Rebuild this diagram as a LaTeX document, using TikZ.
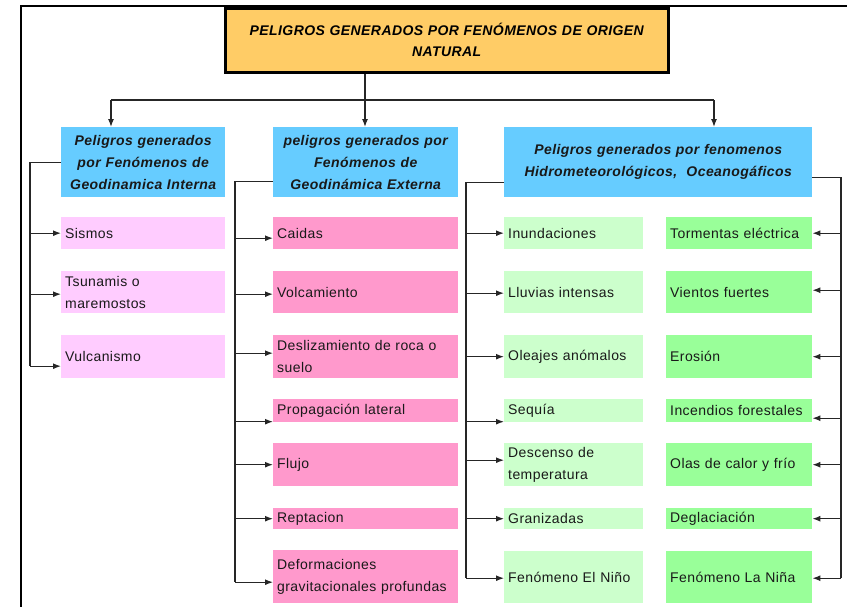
\documentclass[tikz,border=0pt]{standalone}
\usepackage{fontspec}
\setmainfont{Liberation Sans}[LetterSpace=3]
\usetikzlibrary{arrows.meta}
\definecolor{titlefill}{HTML}{FFCC66}
\definecolor{bluefill}{HTML}{66CCFF}
\definecolor{pinkA}{HTML}{FFCCFF}
\definecolor{pinkB}{HTML}{FF99CC}
\definecolor{greenA}{HTML}{CCFFCC}
\definecolor{greenB}{HTML}{99FF99}
\newcommand\mybox[7]{\node[#2, anchor=north west, minimum height=#6pt, text width=#5pt] (#1) at (#3,#4) {#7};}
\tikzset{
  basebox/.style={inner xsep=4pt, inner ysep=1pt, font=\fontsize{14}{22}\selectfont, text=black!90},
  headbox/.style={basebox, fill=bluefill, align=center, font=\fontsize{14}{22}\selectfont\bfseries\itshape},
  itemA/.style={basebox, fill=pinkA, align=left},
  itemB/.style={basebox, fill=pinkB, align=left},
  itemC/.style={basebox, fill=greenA, align=left},
  itemD/.style={basebox, fill=greenB, align=left},
  conn/.style={draw=black!85, line width=1.3pt},
  arr/.style={conn, -{Latex[length=8pt,width=6pt]}}
}
\begin{document}
\begin{tikzpicture}[x=1pt, y=-1pt]
\useasboundingbox (0,0) rectangle (847,606);
% frame
\draw[line width=2.5pt] (21,612) -- (21,6) -- (852,6);
% title
\node[draw=black, line width=2.5pt, fill=titlefill, anchor=north west, minimum height=64pt, text width=435pt, inner xsep=4pt, align=center, font=\fontsize{14}{21}\selectfont\bfseries\itshape] (title) at (224,7) {PELIGROS GENERADOS POR FENÓMENOS DE ORIGEN\\NATURAL};
% headers
\mybox{b1}{headbox}{61}{127}{156}{70}{Peligros generados\\por Fenómenos de\\Geodinamica Interna}
\mybox{b2}{headbox}{273}{127}{177}{70}{peligros generados por\\Fenómenos de\\Geodinámica Externa}
\mybox{b3}{headbox}{504}{127}{300}{70}{Peligros generados por fenomenos\\Hidrometeorológicos,\ \ Oceanogáficos}
% column 1
\mybox{sism}{itemA}{61}{217}{156}{32}{Sismos}
\mybox{tsun}{itemA}{61}{271}{156}{42}{Tsunamis o\\maremostos}
\mybox{vulc}{itemA}{61}{335}{156}{43}{Vulcanismo}
% column 2
\mybox{caid}{itemB}{273}{217}{177}{32}{Caidas}
\mybox{volc}{itemB}{273}{271}{177}{42}{Volcamiento}
\mybox{desl}{itemB}{273}{335}{177}{43}{Deslizamiento de roca o\\suelo}
\mybox{prop}{itemB}{273}{399}{177}{23}{Propagación lateral}
\mybox{fluj}{itemB}{273}{443}{177}{43}{Flujo}
\mybox{rept}{itemB}{273}{508}{177}{21}{Reptacion}
\mybox{defo}{itemB}{273}{550}{177}{53}{Deformaciones\\gravitacionales profundas}
% column 3 left
\mybox{inun}{itemC}{504}{217}{131}{32}{Inundaciones}
\mybox{lluv}{itemC}{504}{271}{131}{42}{Lluvias intensas}
\mybox{olea}{itemC}{504}{335}{131}{43}{Oleajes anómalos}
\mybox{sequ}{itemC}{504}{399}{131}{23}{Sequía}
\mybox{desc}{itemC}{504}{443}{131}{43}{Descenso de\\temperatura}
\mybox{gran}{itemC}{504}{508}{131}{21}{Granizadas}
\mybox{nino}{itemC}{504}{551}{131}{52}{Fenómeno El Niño}
% column 3 right
\mybox{torm}{itemD}{666}{217}{138}{32}{Tormentas eléctrica}
\mybox{vien}{itemD}{666}{271}{138}{42}{Vientos fuertes}
\mybox{eros}{itemD}{666}{335}{138}{43}{Erosión}
\mybox{ince}{itemD}{666}{399}{138}{23}{Incendios forestales}
\mybox{olas}{itemD}{666}{443}{138}{43}{Olas de calor y frío}
\mybox{degl}{itemD}{666}{508}{138}{21}{Deglaciación}
\mybox{nina}{itemD}{666}{551}{138}{52}{Fenómeno La Niña}
% top connectors
\coordinate (hm) at (365,100);
\coordinate (hl) at (111,100);
\coordinate (hr) at (714,100);
\draw[conn] (title.south -| hm) -- (hm);
\draw[conn] (hl) -- (hr);
\draw[arr] (hl) -- (hl |- b1.north);
\draw[arr] (hm) -- (hm |- b2.north);
\draw[arr] (hr) -- (hr |- b3.north);
% column 1 connectors
\coordinate (t1) at (30,0);
\coordinate (vulcA) at ([yshift=-9.5pt]vulc.west);
\coordinate (tsunA) at ([yshift=-2pt]tsun.west);
\draw[conn] (b1.west) -| (t1 |- vulcA);
\draw[arr] (t1 |- sism.west) -- (sism.west);
\draw[arr] (t1 |- tsunA) -- (tsunA);
\draw[arr] (t1 |- vulcA) -- (vulcA);
% column 2 connectors
\coordinate (t2) at (235,0);
\coordinate (caidA) at ([yshift=-5pt]caid.west);
\coordinate (volcA) at ([yshift=-2pt]volc.west);
\coordinate (deslA) at ([yshift=3.5pt]desl.west);
\coordinate (propA) at ([yshift=-11pt]prop.west);
\coordinate (defoA) at ([yshift=-5.5pt]defo.west);
\draw[conn] ([yshift=-19pt]b2.west) -| (t2 |- defoA);
\draw[arr] (t2 |- caidA) -- (caidA);
\draw[arr] (t2 |- volcA) -- (volcA);
\draw[arr] (t2 |- deslA) -- (deslA);
\draw[arr] (t2 |- propA) -- (propA);
\draw[arr] (t2 |- fluj.west) -- (fluj.west);
\draw[arr] (t2 |- rept.west) -- (rept.west);
\draw[arr] (t2 |- defoA) -- (defoA);
% column 3 left connectors
\coordinate (t3) at (466,0);
\coordinate (lluvA) at ([yshift=-1pt]lluv.west);
\coordinate (sequA) at ([yshift=-11pt]sequ.west);
\coordinate (descA) at ([yshift=4.5pt]desc.west);
\coordinate (ninoA) at ([yshift=-1pt]nino.west);
\draw[conn] ([yshift=-20pt]b3.west) -| (t3 |- ninoA);
\draw[arr] (t3 |- inun.west) -- (inun.west);
\draw[arr] (t3 |- lluvA) -- (lluvA);
\draw[arr] (t3 |- olea.west) -- (olea.west);
\draw[arr] (t3 |- sequA) -- (sequA);
\draw[arr] (t3 |- descA) -- (descA);
\draw[arr] (t3 |- gran.west) -- (gran.west);
\draw[arr] (t3 |- ninoA) -- (ninoA);
% column 3 right connectors
\coordinate (t4) at (841,0);
\coordinate (vienA) at ([yshift=2pt]vien.east);
\coordinate (inceA) at ([yshift=-7.5pt]ince.east);
\coordinate (ninaA) at ([yshift=-1pt]nina.east);
\draw[conn] ([yshift=-15pt]b3.east) -| (t4 |- ninaA);
\draw[arr] (t4 |- torm.east) -- (torm.east);
\draw[arr] (t4 |- vienA) -- (vienA);
\draw[arr] (t4 |- eros.east) -- (eros.east);
\draw[arr] (t4 |- inceA) -- (inceA);
\draw[arr] (t4 |- olas.east) -- (olas.east);
\draw[arr] (t4 |- degl.east) -- (degl.east);
\draw[arr] (t4 |- ninaA) -- (ninaA);
\end{tikzpicture}
\end{document}
